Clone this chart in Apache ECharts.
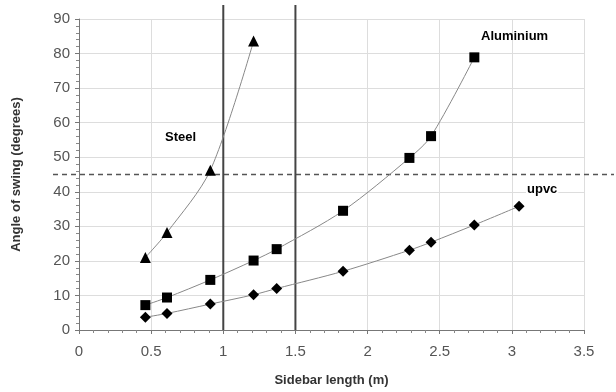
<!DOCTYPE html>
<html>
<head>
<meta charset="utf-8">
<script src="https://cdn.jsdelivr.net/npm/echarts@6/dist/echarts.min.js"></script>
<style>
  html, body { margin: 0; padding: 0; background: #fff; }
  #chart { width: 616px; height: 392px; }
</style>
</head>
<body>
<div id="chart"></div>
<script>
// sidebar lengths (m), shared by every material
const lengths = [0.46, 0.61, 0.91, 1.21, 1.37, 1.83, 2.29, 2.44, 2.74, 3.05];

const steel = [21, 28.2, 46.2, 83.6];
const aluminium = [7.2, 9.4, 14.5, 20.1, 23.4, 34.5, 49.8, 56.1, 78.9];
const upvc = [3.7, 4.8, 7.5, 10.2, 12.0, 17.0, 23.1, 25.4, 30.4, 35.8];

const limitAngle = 45;
const limitLengths = [1, 1.5];

const pairs = (ys) => ys.map((y, i) => [lengths[i], y]);

const chart = echarts.init(document.getElementById('chart'));

const lineSeries = (name, ys, symbol, size) => ({
  name: name,
  type: 'line',
  data: pairs(ys),
  smooth: 0.3,
  symbol: symbol,
  symbolSize: size,
  itemStyle: { color: '#000' },
  lineStyle: { color: '#888', width: 1 },
  z: 5
});

chart.setOption({
  animation: false,
  grid: { left: 79, right: 32, top: 19, bottom: 59 },
  xAxis: {
    type: 'value',
    min: 0, max: 3.5, interval: 0.5,
    name: 'Sidebar length (m)',
    nameLocation: 'middle',
    nameGap: 44,
    nameTextStyle: { fontFamily: 'Liberation Sans', fontWeight: 'bold', fontSize: 13, color: '#333' },
    axisLine: { show: true, onZero: false, lineStyle: { color: '#777' } },
    axisTick: { show: true, length: 4, lineStyle: { color: '#777' } },
    minorTick: { show: true, splitNumber: 5, length: 3, lineStyle: { color: '#888' } },
    axisLabel: { fontFamily: 'Liberation Sans', fontSize: 15, color: '#555', margin: 14 },
    splitLine: { show: true, lineStyle: { color: '#ddd' } }
  },
  yAxis: {
    type: 'value',
    min: 0, max: 90, interval: 10,
    name: 'Angle of swing (degrees)',
    nameLocation: 'middle',
    nameGap: 56,
    nameTextStyle: { fontFamily: 'Liberation Sans', fontWeight: 'bold', fontSize: 13, color: '#333' },
    axisLine: { show: true, lineStyle: { color: '#777' } },
    axisTick: { show: true, length: 4, lineStyle: { color: '#777' } },
    minorTick: { show: true, splitNumber: 5, length: 3, lineStyle: { color: '#888' } },
    axisLabel: { fontFamily: 'Liberation Sans', fontSize: 15, color: '#555', margin: 9 },
    splitLine: { show: true, lineStyle: { color: '#ddd' } }
  },
  series: [
    lineSeries('Steel', steel, 'triangle', 11),
    lineSeries('Aluminium', aluminium, 'rect', 10),
    lineSeries('upvc', upvc, 'diamond', 11)
  ]
});

// reference lines run a little past the plot box, as in the original
const yLimit = chart.convertToPixel({ gridIndex: 0 }, [0, limitAngle])[1];
const yBase = chart.convertToPixel({ gridIndex: 0 }, [0, 0])[1];
const textStyle = { fontFamily: 'Liberation Sans', fontWeight: 'bold', fontSize: 13, fill: '#000' };
const graphics = [
  {
    type: 'line', z: 3,
    shape: { x1: 53, y1: yLimit, x2: 614, y2: yLimit },
    style: { stroke: '#555', lineWidth: 1.5, lineDash: [5, 4] }
  },
  { type: 'text', left: 165, top: 131, style: Object.assign({ text: 'Steel' }, textStyle) },
  { type: 'text', left: 481, top: 30, style: Object.assign({ text: 'Aluminium' }, textStyle) },
  { type: 'text', left: 526, top: 183, z: 10, style: Object.assign({ text: 'upvc', backgroundColor: '#fff', padding: [0, 1] }, textStyle) }
];
limitLengths.forEach((v) => {
  const x = chart.convertToPixel({ gridIndex: 0 }, [v, 0])[0];
  graphics.push({
    type: 'line', z: 4,
    shape: { x1: x, y1: 5, x2: x, y2: yBase },
    style: { stroke: '#444', lineWidth: 2 }
  });
});
chart.setOption({ graphic: graphics });
</script>
</body>
</html>
